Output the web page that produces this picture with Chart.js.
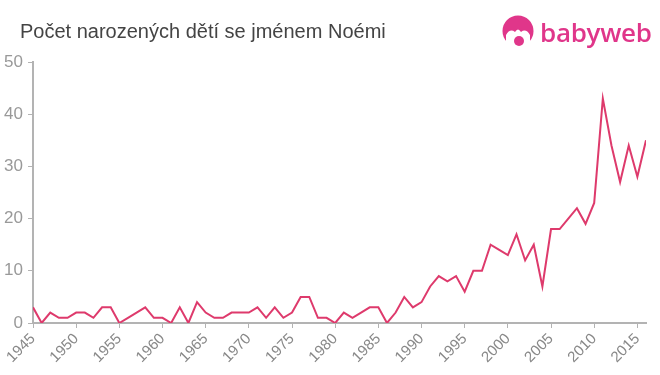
<!DOCTYPE html>
<html><head><meta charset="utf-8">
<script src="https://cdn.jsdelivr.net/npm/chart.js@4/dist/chart.umd.min.js"></script>
<style>
html,body{margin:0;padding:0;background:#fff;}
#wrap{position:relative;width:660px;height:375px;overflow:hidden;}
#title{position:absolute;left:20px;top:20px;font-family:"Liberation Sans",Arial,sans-serif;font-size:20px;color:#444;}
#logo{position:absolute;left:501px;top:14px;height:36px;display:flex;align-items:center;}
#logo span{font-family:"Open Sans","Liberation Sans",sans-serif;font-size:26px;font-weight:600;color:#e0368a;margin-left:5px;letter-spacing:-0.3px;}
canvas{position:absolute;left:0;top:0;}
</style></head>
<body><div id="wrap">
<canvas id="c" width="660" height="375"></canvas>
<div id="title">Počet narozených dětí se jménem Noémi</div>
<div id="logo"><svg width="34" height="34" viewBox="0 0 34 34"><circle cx="17" cy="16" r="15.5" fill="#e0368a"/><path d="M5 20 Q9 13 14 17 Q17 12 20 17 Q25 13 29 20 L29 34 L5 34Z" fill="#fff"/><circle cx="18" cy="26" r="5" fill="#e0368a"/></svg><span>babyweb</span></div>
</div>
<script>
const years = [1945,1946,1947,1948,1949,1950,1951,1952,1953,1954,1955,1956,1957,1958,1959,1960,1961,1962,1963,1964,1965,1966,1967,1968,1969,1970,1971,1972,1973,1974,1975,1976,1977,1978,1979,1980,1981,1982,1983,1984,1985,1986,1987,1988,1989,1990,1991,1992,1993,1994,1995,1996,1997,1998,1999,2000,2001,2002,2003,2004,2005,2006,2007,2008,2009,2010,2011,2012,2013,2014,2015,2016];
const births = [3,0,2,1,1,2,2,1,3,3,0,1,2,3,1,1,0,3,0,4,2,1,1,2,2,2,3,1,3,1,2,5,5,1,1,0,2,1,2,3,3,0,2,5,3,4,7,9,8,9,6,10,10,15,14,13,17,12,15,7,18,18,20,22,19,23,43,34,27,34,28,35];
const yTicks = [0,10,20,30,40,50];

const axisColor = '#b3b3b3';
new Chart(document.getElementById('c'), {
  type: 'line',
  data: { datasets: [{ data: years.map((y,i)=>({x:y,y:births[i]})), borderColor:'#de3a6c', borderWidth:2, pointRadius:0, tension:0, fill:false }] },
  options: {
    responsive:false, animation:false,
    layout:{ padding:{ top:62, right:14, left:0, bottom:0 } },
    plugins:{ legend:{display:false}, tooltip:{enabled:false} },
    scales:{
      x:{ type:'linear', min:1945, max:2016,
        afterFit: s => { s.height = 52; },
        border:{ color:axisColor, width:2 },
        grid:{ drawOnChartArea:false, drawTicks:true, tickLength:5, color:axisColor },
        ticks:{ stepSize:5, includeBounds:false, minRotation:45, maxRotation:45, autoSkip:false, padding:2,
          color:'#888', font:{ family:'"Liberation Sans",Arial,sans-serif', size:15 },
          callback: v => String(v) } },
      y:{ min:0, max:50,
        afterFit: s => { s.width = 33; },
        afterBuildTicks: s => { s.ticks = yTicks.map(v=>({value:v})); },
        border:{ color:axisColor, width:2 },
        grid:{ drawOnChartArea:false, drawTicks:true, tickLength:5, color:axisColor },
        ticks:{ padding:5, color:'#999', font:{ family:'"Liberation Sans",Arial,sans-serif', size:17 } } }
    }
  }
});
</script></body></html>
